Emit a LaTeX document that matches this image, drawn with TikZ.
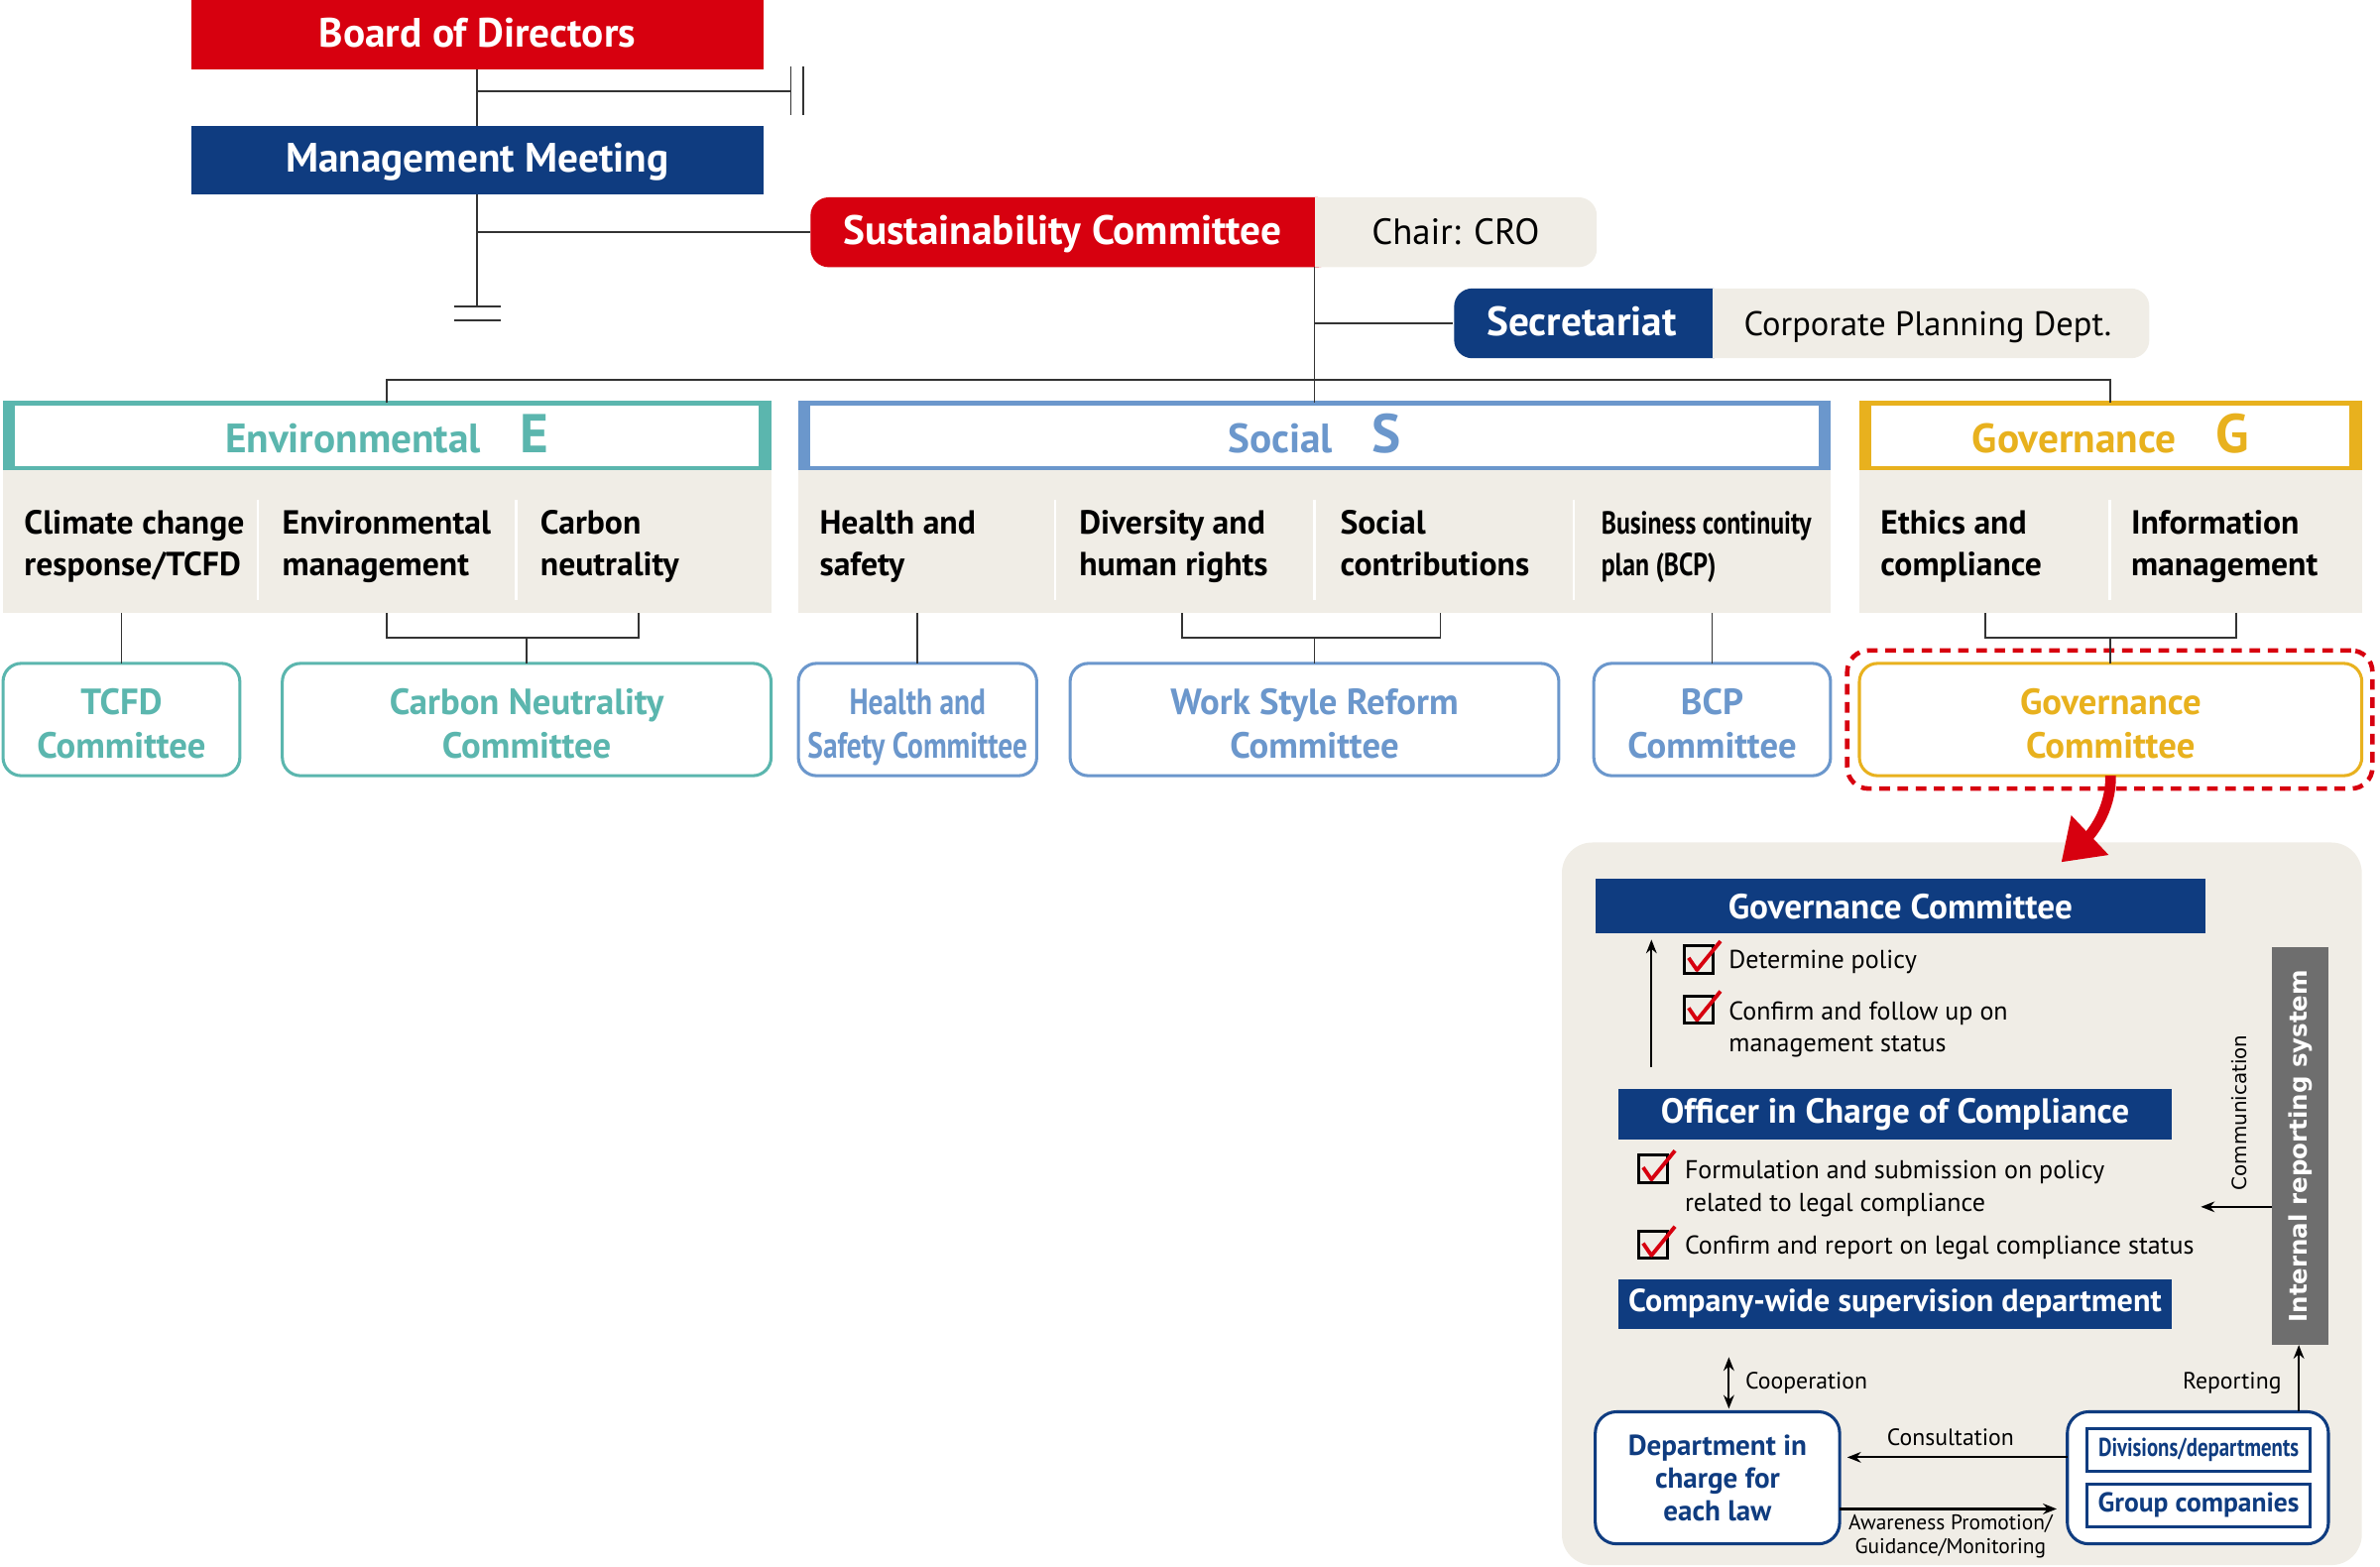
\documentclass[tikz,border=0pt]{standalone}
\usepackage{fontspec}
\setmainfont{PT Sans}
\newfontfamily\narrowfont[FakeStretch=0.8]{PT Sans}
\newfontfamily\dejavu{DejaVu Sans}
\usetikzlibrary{arrows.meta}

\definecolor{sred}{HTML}{D7000F}
\definecolor{navy}{HTML}{0F3C80}
\definecolor{envc}{HTML}{5BB6AE}
\definecolor{socc}{HTML}{6B97CC}
\definecolor{govc}{HTML}{E8B11E}
\definecolor{paper}{HTML}{F0EDE6}
\definecolor{irsgray}{HTML}{6E6E6E}

\begin{document}
\begin{tikzpicture}[x=1pt, y=-1pt,
    every node/.style={inner sep=0, outer sep=0},
    link/.style={draw=black!80, line width=1.2},
    topbox/.style={minimum height=46, text height=20, text depth=4, text=white, font=\fontsize{27}{30}\selectfont\bfseries},
    side/.style={minimum height=46, text height=20, text depth=4},
    head/.style={draw=#1, line width=3, fill=white, minimum height=43, text height=26, text depth=3, text=#1, font=\fontsize{27}{30}\selectfont\bfseries},
    panel/.style={fill=paper, minimum height=94},
    item/.style={anchor=west, align=left, text height=43, text depth=6, font=\fontsize{22}{27}\selectfont\bfseries},
    comm/.style={draw=#1, line width=2, rounded corners=12, fill=white, minimum height=74, text height=57, text depth=6, align=center, text=#1, font=\fontsize{24}{29}\selectfont\bfseries},
    navybox/.style={fill=navy, text=white, font=\fontsize{23}{26}\selectfont\bfseries},
    chk/.style={draw, line width=2, minimum width=19, minimum height=18},
    note/.style={anchor=west, align=left, font=\fontsize{17}{21}\selectfont},
    small/.style={font=\fontsize{15.5}{16}\selectfont},
    arr/.style={-{Stealth[length=9pt, width=7pt]}, line width=1.4}]

    \useasboundingbox (0,0) rectangle (1568,1032);

    % top of the chart
    \node (bod) [topbox, fill=sred, minimum width=377] at (314.5,23) {Board of Directors};
    \node (mm) [topbox, fill=navy, minimum width=377, minimum height=45] at (314.5,105.5) {Management Meeting};

    \fill[paper, rounded corners=12] (534,130) rectangle (1052,176);
    \fill[sred, rounded corners=12] (534,130) rectangle (880,176);
    \fill[paper] (866,130) rectangle (884,176);
    \node (sus) [topbox, minimum width=332] at (700,153) {Sustainability Committee};
    \node (chair) [side, minimum width=186, font=\fontsize{24}{26}\selectfont] at (959,153) {Chair: CRO};

    \fill[paper, rounded corners=12] (958,190) rectangle (1416,236);
    \fill[navy, rounded corners=12] (958,190) rectangle (1140,236);
    \fill[paper] (1128,190) rectangle (1146,236);
    \node (sec) [topbox, minimum width=170] at (1042,213) {Secretariat};
    \node (cpd) [side, minimum width=288, font=\fontsize{22.5}{26}\selectfont] at (1270,213) {Corporate Planning Dept.};

    % E, S and G
    \node (envh) [head=envc, minimum width=503] at (255,287) {Environmental\hspace{26pt}{\fontsize{36}{36}\selectfont E}};
    \node (soch) [head=socc, minimum width=677] at (866,287) {Social\hspace{26pt}{\fontsize{36}{36}\selectfont S}};
    \node (govh) [head=govc, minimum width=328] at (1390.5,287) {Governance\hspace{26pt}{\fontsize{36}{36}\selectfont G}};
    \foreach \h/\c in {envh/envc, soch/socc, govh/govc} {
        \fill[\c] ([xshift=-1.5, yshift=1.5]\h.north west) rectangle ([xshift=6.5, yshift=-1.5]\h.south west);
        \fill[\c] ([xshift=1.5, yshift=1.5]\h.north east) rectangle ([xshift=-6.5, yshift=-1.5]\h.south east);
    }

    \node (envp) [panel, minimum width=506] at (255,357) {};
    \node (socp) [panel, minimum width=680] at (866,357) {};
    \node (govp) [panel, minimum width=331] at (1390.5,357) {};
    \foreach \x in {170, 340, 695, 866, 1037, 1390}
        \draw[white, line width=1.5] (\x,329) -- (\x,395);

    \node (env1) [item] at (16,360.5) {Climate change\\response/TCFD};
    \node (env2) [item] at (186,360.5) {Environmental\\management};
    \node (env3) [item] at (356,360.5) {Carbon\\neutrality};
    \node (soc1) [item] at (540,360.5) {Health and\\safety};
    \node (soc2) [item] at (711,360.5) {Diversity and\\human rights};
    \node (soc3) [item] at (883,360.5) {Social\\contributions};
    \node (soc4) [item, font=\fontsize{21}{27}\narrowfont\bfseries] at (1055,360.5) {Business continuity\\plan (BCP)};
    \node (gov1) [item] at (1239,360.5) {Ethics and\\compliance};
    \node (gov2) [item] at (1404,360.5) {Information\\management};

    % committees
    \node (tcfd) [comm=envc, minimum width=156] at (80,474) {TCFD\\Committee};
    \node (cnc) [comm=envc, minimum width=322] at (347,474) {Carbon Neutrality\\Committee};
    \node (hsc) [comm=socc, minimum width=157, font=\fontsize{24}{29}\narrowfont\bfseries] at (604.5,474) {Health and\\Safety Committee};
    \node (wsr) [comm=socc, minimum width=322] at (866,474) {Work Style Reform\\Committee};
    \node (bcp) [comm=socc, minimum width=156] at (1128,474) {BCP\\Committee};
    \node (gvc) [comm=govc, minimum width=331] at (1390.5,474) {Governance\\Committee};
    \node (gvsel) [draw=sred, line width=3, dash pattern=on 7pt off 5pt, rounded corners=14, minimum width=346, minimum height=91] at (1390,474) {};

    % connectors
    \draw[link] (bod.south) -- (mm.north);
    \coordinate (bodr) at (521,60);
    \draw[link] (bod.south |- bodr) -- (bodr);
    \draw[link] (bodr) ++(0,-16) -- ++(0,32);
    \draw[link] (bodr) ++(8,-16) -- ++(0,32);
    \coordinate (mmend) at (314.5,202);
    \draw[link] (mm.south) -- (mmend);
    \draw[link] (mmend) ++(-15.5,0) -- ++(31,0);
    \draw[link] (mmend) ++(-15.5,9) -- ++(31,0);
    \draw[link] (mm.south |- sus.west) -- (sus.west);
    \draw[link] (sus.south east) -- (soch.north);
    \draw[link] (sus.south east |- sec.west) -- (sec.west);
    \coordinate (bus) at (866,250);
    \draw[link] (envh.north) |- (bus) -| (govh.north);

    \draw[link] (envp.south -| tcfd.north) -- (tcfd.north);
    \coordinate (cncj) at (347,420);
    \draw[link] ([xshift=253]envp.south west) |- (cncj) -| ([xshift=419]envp.south west);
    \draw[link] (cncj) -- (cnc.north);
    \draw[link] (socp.south -| hsc.north) -- (hsc.north);
    \coordinate (wsrj) at (866,420);
    \draw[link] ([xshift=253]socp.south west) |- (wsrj) -| ([xshift=423]socp.south west);
    \draw[link] (wsrj) -- (wsr.north);
    \draw[link] (socp.south -| bcp.north) -- (bcp.north);
    \coordinate (gvcj) at (1390.5,420);
    \draw[link] ([xshift=83]govp.south west) |- (gvcj) -| ([xshift=248]govp.south west);
    \draw[link] (gvcj) -- (gvc.north);

    % governance detail
    \node (gpanel) [fill=paper, rounded corners=20, minimum width=527, minimum height=476] at (1292.5,793) {};
    \draw[sred, line width=7, -{Triangle[length=26pt, width=34pt]}] (gvc.south) .. controls (1391,535) and (1376,551) .. (1358,568);

    \node (gcom) [navybox, minimum width=402, minimum height=36] at (1252,597) {Governance Committee};
    \coordinate (upb) at (1088,703);
    \draw[arr] (upb) -- ([yshift=-4]upb |- gcom.south);

    \node (ck1) [chk] at (1119,632) {};
    \node (ck2) [chk] at (1119,665) {};
    \node (ck3) [chk] at (1089,770) {};
    \node (ck4) [chk] at (1089,820) {};
    \foreach \c in {ck1, ck2, ck3, ck4}
        \draw[sred, line width=2.5, line join=round] ([xshift=3, yshift=1]\c.west) -- ([xshift=-1, yshift=2]\c.south) -- ([xshift=5, yshift=3]\c.north east);
    \node (dp1) [note] at (1139,634) {Determine policy};
    \node (dp2) [note] at (1139,678) {Confirm and follow up on\\management status};

    \node (occ) [navybox, minimum width=365, minimum height=33] at (1248.5,734) {Officer in Charge of Compliance};
    \node (dp3) [note] at (1110,783) {Formulation and submission on policy\\related to legal compliance};
    \node (dp4) [note] at (1110,822) {Confirm and report on legal compliance status};
    \node (cws) [navybox, minimum width=365, minimum height=33, font=\fontsize{21}{24}\selectfont\bfseries] at (1248.5,859) {Company-wide supervision department};

    \node (irs) [fill=irsgray, text=white, rotate=90, minimum width=262, minimum height=37, font=\fontsize{16}{18}\dejavu\bfseries] at (1515.5,755) {Internal reporting system};
    \node (comml) [rotate=90, font=\fontsize{13}{15}\dejavu] at (1475,733) {Communication};
    \coordinate (comm0) at (1497,795);
    \coordinate (comm1) at (1450,795);
    \draw[arr] (comm0) -- (comm1);

    \node (dept) [draw=navy, line width=2, rounded corners=14, fill=white, minimum width=161, minimum height=87, align=center, text=navy, font=\fontsize{19}{21.5}\selectfont\bfseries] at (1131.5,973.5) {Department in\\charge for\\each law};
    \node (rbox) [draw=navy, line width=2, rounded corners=14, fill=white, minimum width=172, minimum height=87] at (1448,973.5) {};
    \node (divs) [draw=navy, line width=2, minimum width=147, minimum height=28, text=navy, font=\fontsize{17}{20}\narrowfont\bfseries] at (1448.5,955) {Divisions/departments};
    \node (grp) [draw=navy, line width=2, minimum width=147, minimum height=28, text=navy, font=\fontsize{18}{20}\selectfont\bfseries] at (1448.5,991.5) {Group companies};

    \coordinate (coopt) at (1139,894);
    \coordinate (coopb) at (1139,928);
    \draw[arr, {Stealth[length=9pt, width=7pt]}-{Stealth[length=9pt, width=7pt]}] (coopt) -- (coopb);
    \node (coopl) [small, anchor=west] at (1150,911) {Cooperation};
    \draw[arr] ([xshift=66.5]rbox.north) -- ([xshift=66.5, yshift=44]rbox.north);
    \node (repl) [small, anchor=east] at (1503,911) {Reporting};
    \draw[arr] ([yshift=13.5]rbox.west) -- ([xshift=5, yshift=13.5]dept.east);
    \node (consl) [small] at (1285,947) {Consultation};
    \draw[arr] ([yshift=-20.5]dept.east) -- ([xshift=-7, yshift=-20.5]rbox.west);
    \node (awl) [align=center, font=\fontsize{14}{16}\selectfont] at (1285,1012) {Awareness Promotion/\\Guidance/Monitoring};
\end{tikzpicture}
\end{document}
